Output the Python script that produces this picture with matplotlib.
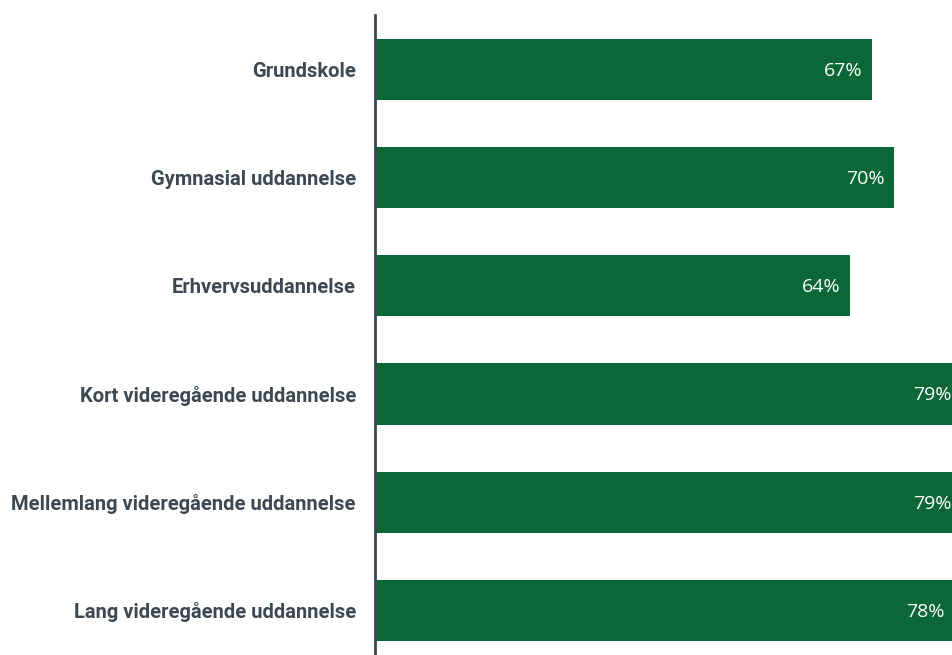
import matplotlib
matplotlib.use("Agg")
import matplotlib.pyplot as plt
import matplotlib.transforms as mtrans

categories = ["Grundskole", "Gymnasial uddannelse", "Erhvervsuddannelse",
              "Kort videregående uddannelse", "Mellemlang videregående uddannelse",
              "Lang videregående uddannelse"]
values = [67, 70, 64, 79, 79, 78]
labels = ["67%", "70%", "64%", "79%", "79%", "78%"]

W, H = 952, 655
fig = plt.figure(figsize=(W/100, H/100), dpi=100)
left = 375/W
top = 1 - 15/H
bottom = -9.6/H
ax = fig.add_axes([left, bottom, 1 - left, top - bottom])

bar_color = "#0b6836"
ypos = list(range(len(categories)))
ax.barh(ypos, values, height=0.565, color=bar_color, zorder=2)
ax.set_ylim(len(categories) - 0.5, -0.5)
ax.set_xlim(0, 77.75)

off = mtrans.offset_copy(ax.transData, fig=fig, x=-9.5, y=-1.5, units='dots')
for y, v, l in zip(ypos, values, labels):
    ax.text(v, y, l, transform=off, ha='right', va='center', color='white',
            fontsize=14, family='Open Sans', clip_on=False)

ax.set_yticks(ypos)
ax.set_yticklabels(categories, fontsize=14.5, fontweight='bold', family='Roboto', color='#3d4852')
ax.tick_params(axis='y', length=0, pad=13.7)
ax.set_xticks([])
for s in ['top', 'right', 'bottom']:
    ax.spines[s].set_visible(False)
ax.spines['left'].set_color('#3d4852')
ax.spines['left'].set_linewidth(2)

fig.savefig("out.png", dpi=100)
